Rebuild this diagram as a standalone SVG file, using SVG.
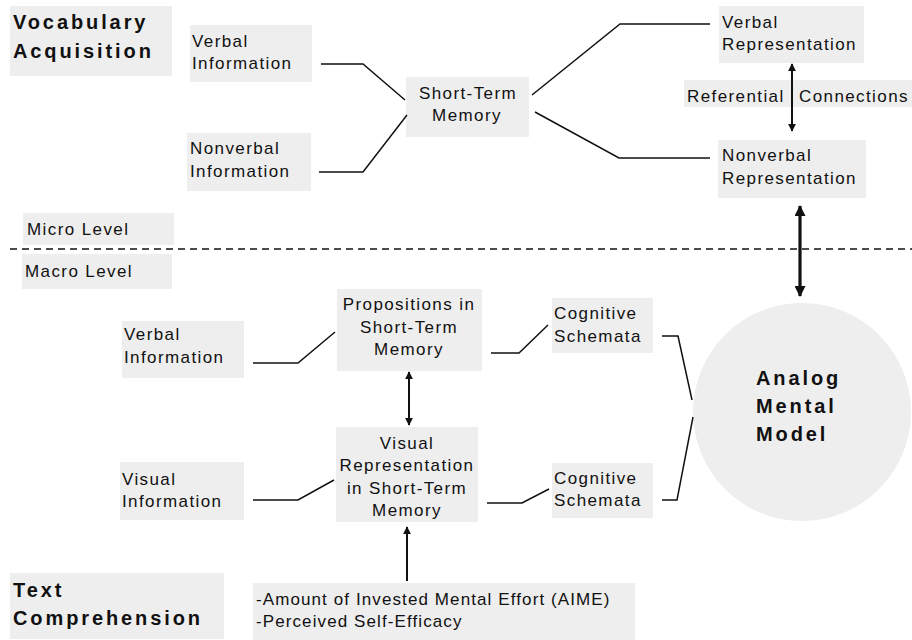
<svg xmlns="http://www.w3.org/2000/svg" width="912" height="640" viewBox="0 0 912 640">
<style>
.box{fill:#eeeeee}
.t{font-family:"Liberation Sans",Arial,sans-serif;font-size:17px;letter-spacing:1.4px;fill:#111}
.c{text-anchor:middle}
.n{letter-spacing:1.1px}
.b{font-family:"Liberation Sans",Arial,sans-serif;font-size:20px;font-weight:bold;letter-spacing:2.9px;fill:#111}
.ln{fill:none;stroke:#111;stroke-width:1.5}
.ar{fill:none;stroke:#111;stroke-width:2}
.ak{fill:none;stroke:#111;stroke-width:3.2}
</style>
<defs>
<marker id="ah" viewBox="0 0 10 10" refX="9" refY="5" markerWidth="8" markerHeight="8" markerUnits="userSpaceOnUse" orient="auto-start-reverse"><path d="M0,0 L10,5 L0,10 z" fill="#111"/></marker>
<marker id="ahk" viewBox="0 0 10 10" refX="9" refY="5" markerWidth="12" markerHeight="11" markerUnits="userSpaceOnUse" orient="auto-start-reverse"><path d="M0,0 L10,5 L0,10 z" fill="#111"/></marker>
</defs>
<rect width="912" height="640" fill="#ffffff"/>

<g id="title-vocab">
<rect class="box" x="10" y="6" width="162" height="70"/>
<text class="b" x="13" y="29">Vocabulary</text>
<text class="b" x="13" y="58">Acquisition</text>
</g>
<g id="verbal-info-top">
<rect class="box" x="190" y="25" width="122" height="57"/>
<text class="t" x="192" y="47">Verbal</text>
<text class="t" x="192" y="69">Information</text>
</g>
<g id="nonverbal-info">
<rect class="box" x="187" y="133" width="124" height="58"/>
<text class="t" x="190" y="154">Nonverbal</text>
<text class="t" x="190" y="177">Information</text>
</g>
<g id="stm">
<rect class="box" x="406" y="77" width="123" height="60"/>
<text class="t c" x="468" y="99">Short-Term</text>
<text class="t c" x="467" y="121">Memory</text>
</g>
<g id="verbal-rep">
<rect class="box" x="719" y="6" width="145" height="57"/>
<text class="t" x="722" y="28">Verbal</text>
<text class="t" x="722" y="50">Representation</text>
</g>
<g id="nonverbal-rep">
<rect class="box" x="718" y="140" width="148" height="58"/>
<text class="t" x="722" y="161">Nonverbal</text>
<text class="t" x="722" y="184">Representation</text>
</g>
<g id="referential">
<rect class="box" x="684" y="80" width="228" height="27"/>
<text class="t" x="687" y="102">Referential</text>
<text class="t" x="799" y="102">Connections</text>
</g>
<g id="micro">
<rect class="box" x="23" y="213" width="151" height="32"/>
<text class="t" x="27" y="235">Micro Level</text>
</g>
<g id="macro">
<rect class="box" x="22" y="254" width="150" height="35"/>
<text class="t" x="25" y="277">Macro Level</text>
</g>
<g id="verbal-info-low">
<rect class="box" x="122" y="321" width="122" height="57"/>
<text class="t" x="124" y="340">Verbal</text>
<text class="t" x="124" y="363">Information</text>
</g>
<g id="propositions">
<rect class="box" x="337" y="289" width="145" height="82"/>
<text class="t c" x="409" y="310">Propositions in</text>
<text class="t c" x="409" y="333">Short-Term</text>
<text class="t c" x="409" y="355">Memory</text>
</g>
<g id="cog-upper">
<rect class="box" x="552" y="298" width="101" height="55"/>
<text class="t" x="554" y="319">Cognitive</text>
<text class="t" x="554" y="342">Schemata</text>
</g>
<g id="visual-info">
<rect class="box" x="120" y="462" width="124" height="58"/>
<text class="t" x="122" y="485">Visual</text>
<text class="t" x="122" y="507">Information</text>
</g>
<g id="visual-rep">
<rect class="box" x="336" y="427" width="142" height="95"/>
<text class="t c" x="407" y="449">Visual</text>
<text class="t c" x="407" y="471">Representation</text>
<text class="t c" x="407" y="494">in Short-Term</text>
<text class="t c" x="407" y="516">Memory</text>
</g>
<g id="cog-lower">
<rect class="box" x="552" y="463" width="101" height="55"/>
<text class="t" x="554" y="484">Cognitive</text>
<text class="t" x="554" y="506">Schemata</text>
</g>
<g id="analog-model">
<circle cx="802" cy="412" r="109" fill="#eeeeee"/>
<text class="b" x="756" y="385">Analog</text>
<text class="b" x="756" y="413">Mental</text>
<text class="b" x="756" y="441">Model</text>
</g>
<g id="aime">
<rect class="box" x="253" y="583" width="382" height="57"/>
<text class="t n" x="256" y="605">-Amount of Invested Mental Effort (AIME)</text>
<text class="t n" x="256" y="627">-Perceived Self-Efficacy</text>
</g>
<g id="title-text">
<rect class="box" x="10" y="573" width="214" height="66"/>
<text class="b" x="13" y="597">Text</text>
<text class="b" x="13" y="625">Comprehension</text>
</g>

<g id="connectors">
<line x1="10" y1="249" x2="912" y2="249" stroke="#111" stroke-width="1.5" stroke-dasharray="7 5"/>
<polyline class="ln" points="321,64 363,64 405,100"/>
<polyline class="ln" points="319,172 363,172 407,115"/>
<polyline class="ln" points="532,95 620,24 710,24"/>
<polyline class="ln" points="535,112 619,158 710,158"/>
<line class="ar" x1="792" y1="64" x2="792" y2="131" marker-start="url(#ah)" marker-end="url(#ah)"/>
<line class="ak" x1="800" y1="206" x2="800" y2="296" marker-start="url(#ahk)" marker-end="url(#ahk)"/>
<polyline class="ln" points="253,363 298,363 335,332"/>
<polyline class="ln" points="491,353 519,353 548,325"/>
<line class="ar" x1="409" y1="372" x2="409" y2="425" marker-start="url(#ah)" marker-end="url(#ah)"/>
<polyline class="ln" points="253,500 298,500 334,480"/>
<polyline class="ln" points="487,503 522,503 549,489"/>
<polyline class="ln" points="662,336 678,336 692,400"/>
<polyline class="ln" points="693,417 677,500 662,500"/>
<line class="ar" x1="407" y1="581" x2="407" y2="527" marker-end="url(#ah)"/>
</g>
</svg>
